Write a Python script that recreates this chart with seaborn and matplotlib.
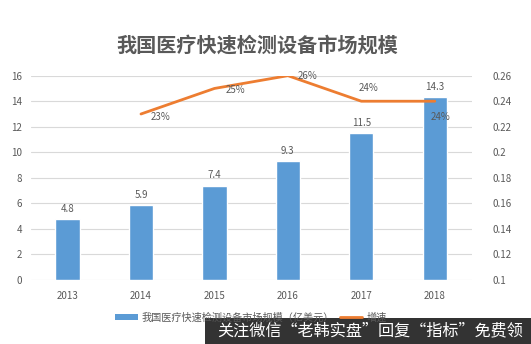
import matplotlib
matplotlib.use("Agg")
import matplotlib.pyplot as plt
import seaborn as sns
import pandas as pd
from matplotlib.patches import Patch
from matplotlib.lines import Line2D

years = ["2013", "2014", "2015", "2016", "2017", "2018"]
market_size = [4.8, 5.9, 7.4, 9.3, 11.5, 14.3]
growth_years = ["2014", "2015", "2016", "2017", "2018"]
growth_rate = [0.23, 0.25, 0.26, 0.24, 0.24]
left_ticks = [0, 2, 4, 6, 8, 10, 12, 14, 16]
right_ticks = [0.1, 0.12, 0.14, 0.16, 0.18, 0.2, 0.22, 0.24, 0.26]
right_labels = ["0.1", "0.12", "0.14", "0.16", "0.18", "0.2", "0.22", "0.24", "0.26"]

title = "我国医疗快速检测设备市场规模"
bar_name = "我国医疗快速检测设备市场规模（亿美元）"
line_name = "增速"
banner = "关注微信“老韩实盘”回复“指标”免费领"

sns.set_theme(style="white")
plt.rcParams["font.family"] = ["Noto Sans CJK SC", "DejaVu Sans"]

BLUE = "#5B9BD5"
ORANGE = "#ED7D31"
GRAY = "#595959"
GRID = "#D9D9D9"

bars_df = pd.DataFrame({"year": years, "size": market_size})
line_df = pd.DataFrame({"year": growth_years, "rate": growth_rate})
pos = {y: i for i, y in enumerate(years)}
line_df["x"] = line_df["year"].map(pos)

fig = plt.figure(figsize=(5.31, 3.44), dpi=100)
ax = fig.add_axes([0.058, 0.186, 0.83, 0.594])

sns.barplot(data=bars_df, x="year", y="size", color=BLUE, width=0.33,
            saturation=1, ax=ax, zorder=2)
ax.set_xlim(-0.5, 5.5)
ax.set_ylim(0, 16)
ax.set_yticks(left_ticks)
ax.yaxis.grid(True, color=GRID, linewidth=0.8)
ax.set_axisbelow(True)
for s in ax.spines.values():
    s.set_visible(False)
ax.set_xlabel("")
ax.set_ylabel("")
ax.tick_params(axis="y", length=0, labelsize=7, labelcolor=GRAY, pad=6)
ax.tick_params(axis="x", length=0, labelsize=7, labelcolor=GRAY, pad=8)

for i, v in enumerate(market_size):
    ax.text(i, v + 0.4, f"{v}", ha="center", va="bottom", fontsize=7, color=GRAY)

ax2 = ax.twinx()
sns.lineplot(data=line_df, x="x", y="rate", color=ORANGE, linewidth=2, ax=ax2)
ax2.set_xlim(-0.5, 5.5)
ax2.set_ylim(0.1, 0.26)
ax2.set_yticks(right_ticks)
ax2.set_yticklabels(right_labels)
for s in ax2.spines.values():
    s.set_visible(False)
ax2.set_xlabel("")
ax2.set_ylabel("")
ax2.tick_params(axis="y", length=0, labelsize=7, labelcolor=GRAY, pad=15)

offsets = [(0.27, -0.002), (0.28, -0.001), (0.27, 0.0), (0.1, 0.0105), (0.08, -0.012)]
for (x, r), (dx, dy) in zip(zip(line_df["x"], growth_rate), offsets):
    ax2.text(x + dx, r + dy, f"{round(r * 100)}%", ha="center", va="center",
             fontsize=7, color=GRAY)

fig.text(0.485, 0.868, title, ha="center", va="center", fontsize=14.5,
         fontweight="bold", color=GRAY)

handles = [Patch(facecolor=BLUE, edgecolor="none"),
           Line2D([0], [0], color=ORANGE, linewidth=2)]
fig.legend(handles, [bar_name, line_name], loc="center left",
           bbox_to_anchor=(0.2, 0.077), ncol=2, frameon=False, fontsize=7.3,
           handlelength=2.2, handleheight=0.6, columnspacing=0.6,
           handletextpad=0.4, labelcolor=GRAY)

fig.patches.append(plt.Rectangle((0.387, 0.0), 0.613, 0.077, transform=fig.transFigure,
                                 facecolor="#333333", edgecolor="none", zorder=5))
fig.text(0.697, 0.038, banner, ha="center", va="center", fontsize=11.6,
         color="white", zorder=6)

fig.savefig("out.png", dpi=100, facecolor="white")
